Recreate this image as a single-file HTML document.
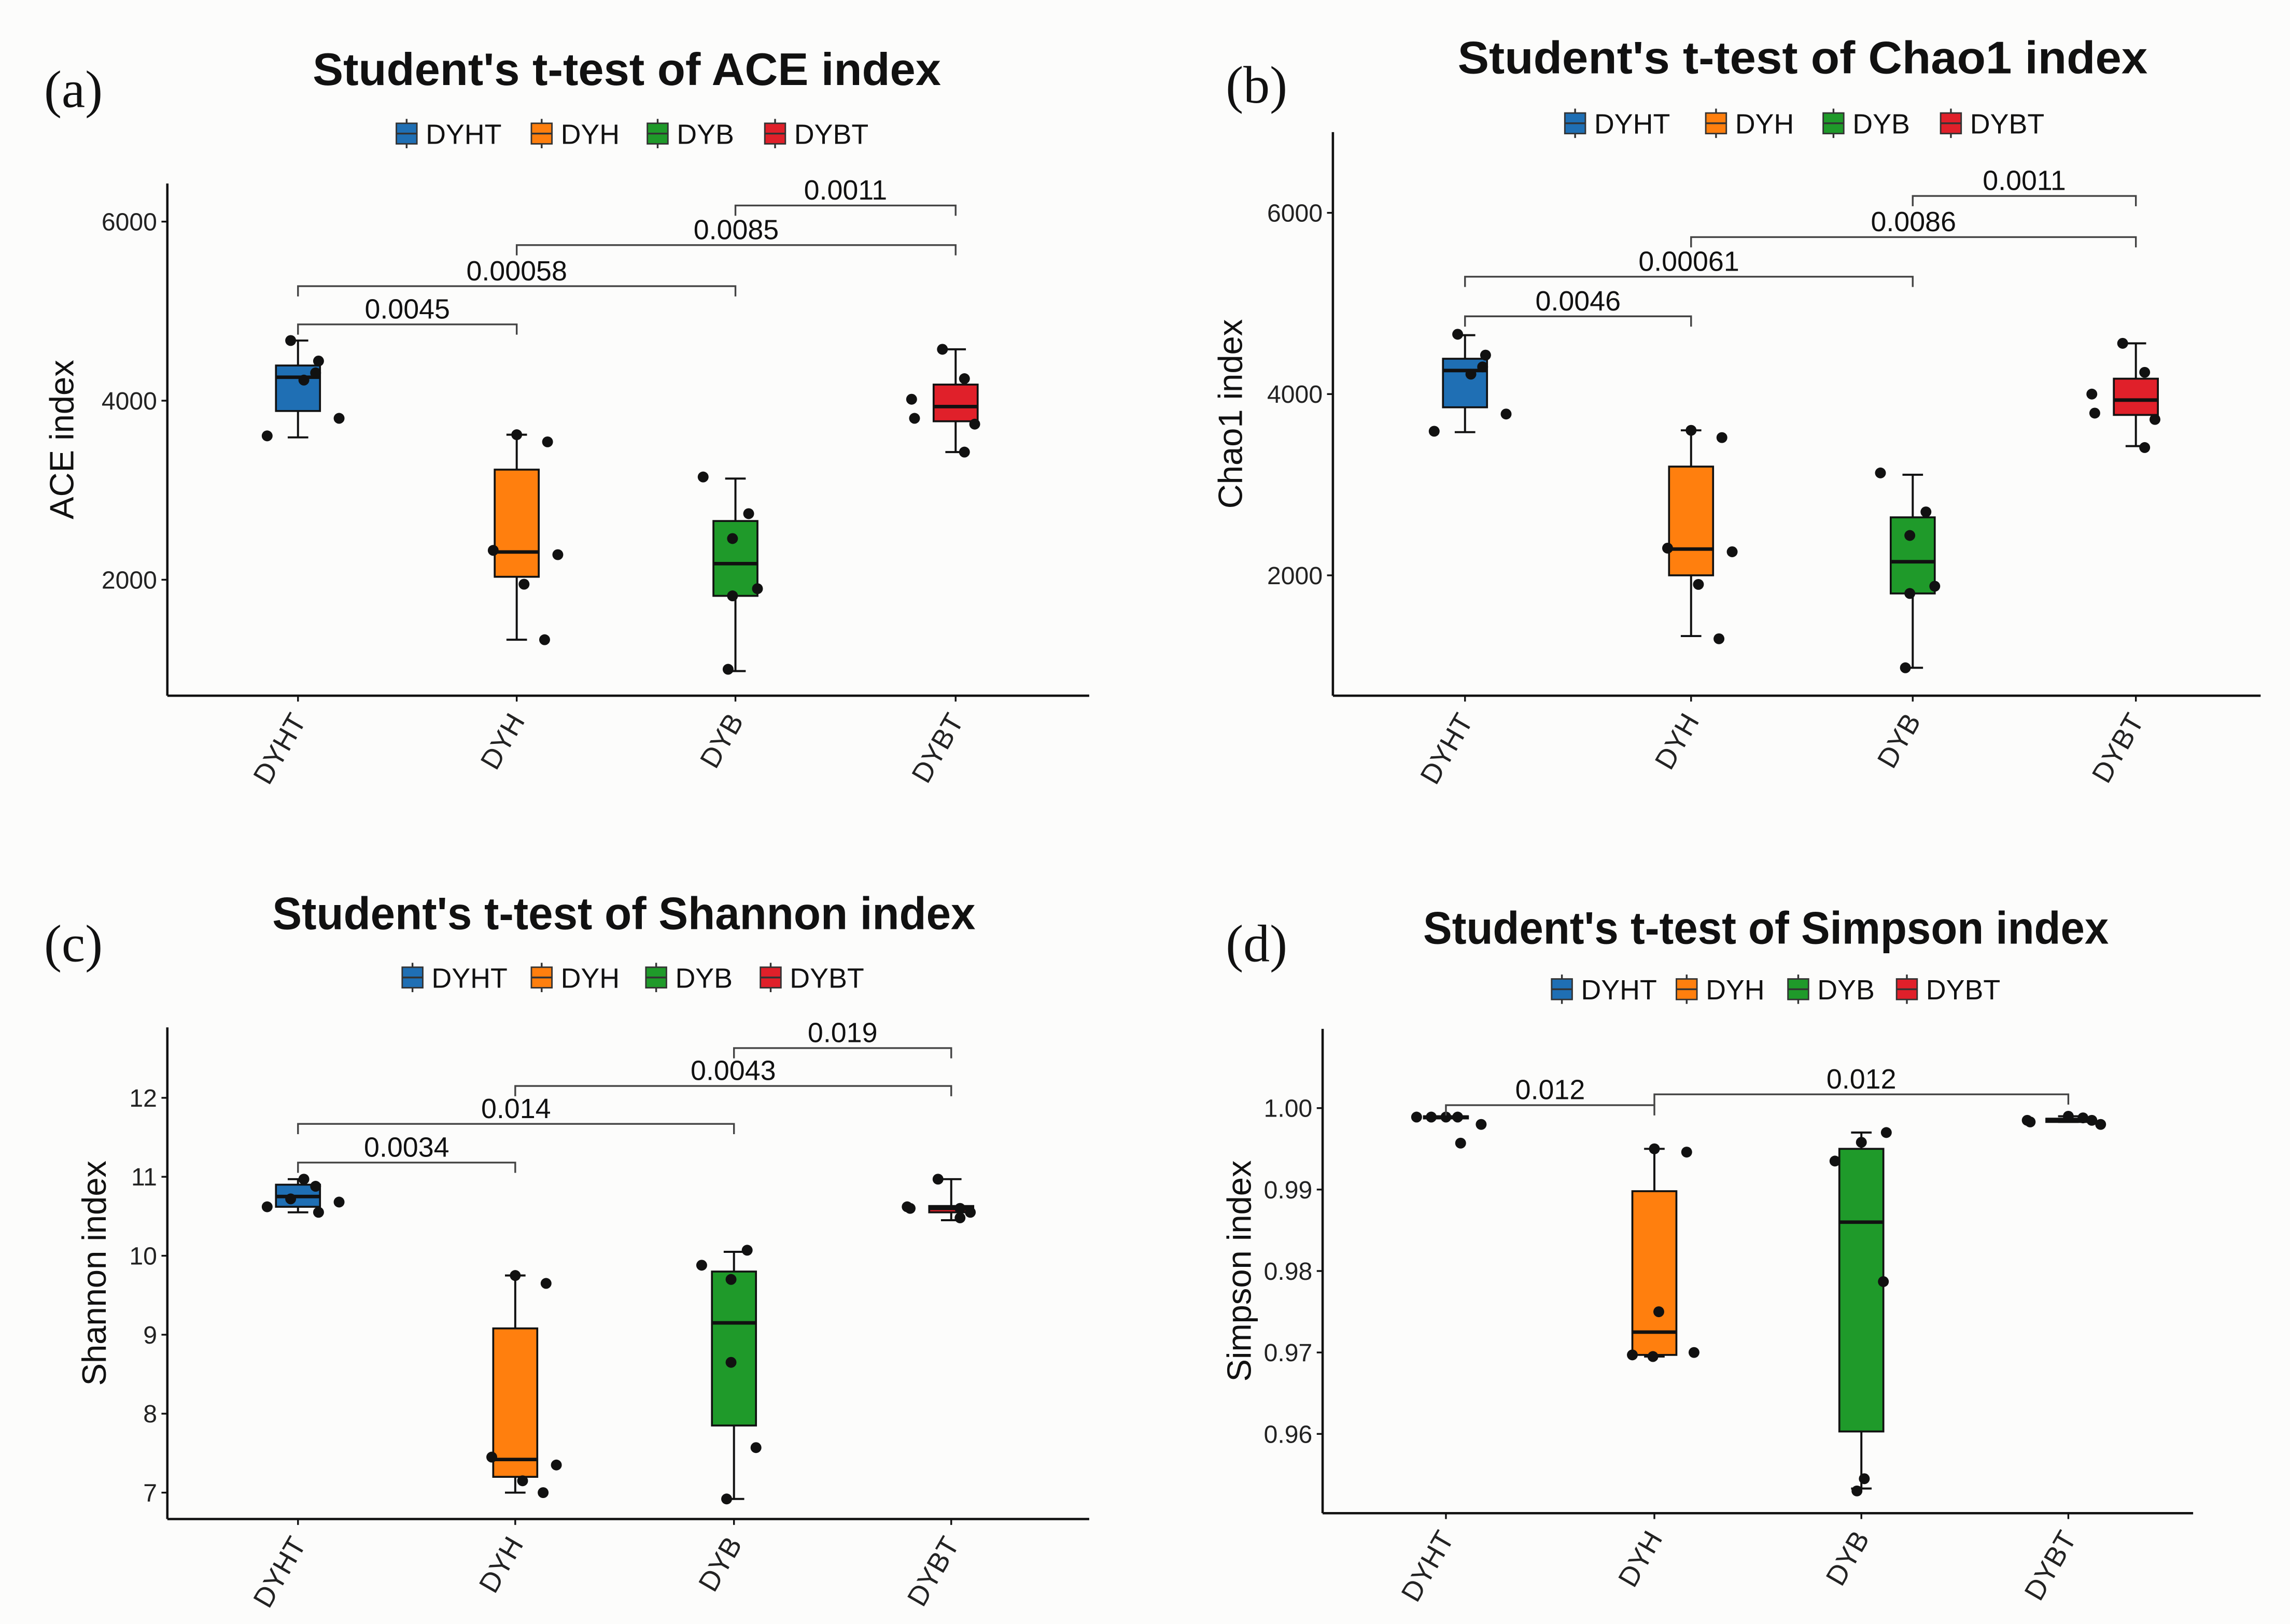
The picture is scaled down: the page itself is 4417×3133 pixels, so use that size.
<!DOCTYPE html>
<html><head><meta charset="utf-8"><style>
html,body{margin:0;padding:0;background:#fcfcfb;}
svg{display:block;}
</style></head><body>
<svg id="fig" xmlns="http://www.w3.org/2000/svg" width="4417" height="3133" viewBox="0 0 1560 1106.5" font-family="'Liberation Sans', sans-serif">
<rect x="0" y="0" width="1560" height="1107" fill="#fcfcfb"/>
</svg>
<script>
const categories = ['DYHT','DYH','DYB','DYBT'];
const colors = ['#1f6fb4','#ff7f0e','#1f9a2a','#e0202a'];

const aLo = [3590,1330,980,3426];
const aQ1 = [3885,2033,1820,3770];
const aMed = [4262,2310,2180,3934];
const aQ3 = [4393,3230,2656,4180];
const aHi = [4672,3620,3130,4574];
const aPts = [[3607,4672,4230,4311,4443,3803],[2328,3620,3540,1950,2280,1330],[3148,2738,2460,1820,1900,1000],[4016,3803,4574,4246,3738,3426]];
const aTicks = [2000,4000,6000];
const aBrLabels = ['0.0045','0.00058','0.0085','0.0011'];
const aBrPairs = [[0,1],[0,2],[1,3],[2,3]];
const aBrVals = [4852,5279,5738,6180];

const bLo = [3580,1330,980,3426];
const bQ1 = [3854,2000,1800,3770];
const bMed = [4260,2290,2150,3934];
const bQ3 = [4390,3200,2640,4170];
const bHi = [4650,3600,3110,4560];
const bPts = [[3590,4660,4220,4300,4430,3780],[2300,3600,3520,1900,2260,1300],[3130,2700,2440,1800,1880,980],[4000,3790,4560,4240,3720,3410]];
const bTicks = [2000,4000,6000];
const bBrLabels = ['0.0046','0.00061','0.0086','0.0011'];
const bBrPairs = [[0,1],[0,2],[1,3],[2,3]];
const bBrVals = [4858,5295,5732,6186];

const cLo = [10.55,7.0,6.92,10.45];
const cQ1 = [10.62,7.2,7.85,10.55];
const cMed = [10.75,7.42,9.15,10.6];
const cQ3 = [10.9,9.08,9.8,10.63];
const cHi = [10.97,9.75,10.05,10.97];
const cPts = [[10.62,10.72,10.97,10.88,10.55,10.68],[7.45,9.75,9.65,7.15,7.35,7.0],[9.88,10.07,9.7,8.65,7.57,6.92],[10.62,10.6,10.97,10.6,10.55,10.48]];
const cTicks = [7,8,9,10,11,12];
const cBrLabels = ['0.0034','0.014','0.0043','0.019'];
const cBrPairs = [[0,1],[0,2],[1,3],[2,3]];
const cBrVals = [11.18,11.67,12.15,12.63];

const dLo = [0.9988,0.9695,0.9533,0.9983];
const dQ1 = [0.9988,0.9697,0.9603,0.9983];
const dMed = [0.9989,0.9725,0.986,0.9986];
const dQ3 = [0.999,0.9898,0.995,0.9987];
const dHi = [0.999,0.995,0.997,0.999];
const dPts = [[0.9989,0.9989,0.9989,0.9989,0.9957,0.998],[0.9697,0.995,0.9946,0.975,0.9695,0.970],[0.9935,0.997,0.9958,0.9787,0.9545,0.953],[0.9985,0.9983,0.999,0.9988,0.9985,0.998]];
const dTicks = [0.96,0.97,0.98,0.99,1.00];
const dBrLabels = ['0.012','0.012'];
const dBrPairs = [[0,1],[1,3]];
const dBrVals = [1.00036,1.00169];

const jitterA = [[-21,-5,4,12,14,28],[-16,0,21,5,28,19],[-22,9,-2,-2,15,-5],[-30,-28,-9,6,13,6]];
const jitterD = [[-20,-10,0,8,10,24],[-15,0,22,3,-1,27],[-18,17,0,15,2,-3],[-28,-26,0,10,16,22]];

const NS='http://www.w3.org/2000/svg';
const svg=document.getElementById('fig');
function mk(tag,attrs,parent,text){const e=document.createElementNS(NS,tag);for(const k in attrs)e.setAttribute(k,attrs[k]);if(text!==undefined)e.textContent=text;(parent||svg).appendChild(e);return e;}

const panels=[
 {id:'a',letter:'(a)',lx:30,ly:73,title:"Student's t-test of ACE index",tx:427,ty:58,tw:428,legY:91,legX:[270,362,441,521],
  ax:114,top:125,bot:474,right:742,cx:[203,352,501,651],v0:2000,p0:395,v1:6000,p1:151,ylab:'ACE index',ylx:50,
  lo:aLo,q1:aQ1,med:aMed,q3:aQ3,hi:aHi,pts:aPts,jit:jitterA,ticks:aTicks,fmt:v=>String(v),brL:aBrLabels,brP:aBrPairs,brV:aBrVals},
 {id:'b',letter:'(b)',lx:835,ly:70,title:"Student's t-test of Chao1 index",tx:1228,ty:50,tw:470,legY:84,legX:[1066,1162,1242,1322],
  ax:908,top:90,bot:474,right:1540,cx:[998,1152,1303,1455],v0:2000,p0:392,v1:6000,p1:145,ylab:'Chao1 index',ylx:846,
  lo:bLo,q1:bQ1,med:bMed,q3:bQ3,hi:bHi,pts:bPts,jit:jitterA,ticks:bTicks,fmt:v=>String(v),brL:bBrLabels,brP:bBrPairs,brV:bBrVals},
 {id:'c',letter:'(c)',lx:30,ly:655,title:"Student's t-test of Shannon index",tx:425,ty:633,tw:479,legY:666,legX:[274,362,440,518],
  ax:114,top:700,bot:1035,right:742,cx:[203,351,500,648],v0:7,p0:1017,v1:12,p1:748,ylab:'Shannon index',ylx:72,
  lo:cLo,q1:cQ1,med:cMed,q3:cQ3,hi:cHi,pts:cPts,jit:jitterA,ticks:cTicks,fmt:v=>String(v),brL:cBrLabels,brP:cBrPairs,brV:cBrVals},
 {id:'d',letter:'(d)',lx:835,ly:655,title:"Student's t-test of Simpson index",tx:1203,ty:643,tw:467,legY:674,legX:[1057,1142,1218,1292],
  ax:901,top:701,bot:1031,right:1494,cx:[985,1127,1268,1409],v0:0.96,p0:977,v1:1.00,p1:755,ylab:'Simpson index',ylx:852,
  lo:dLo,q1:dQ1,med:dMed,q3:dQ3,hi:dHi,pts:dPts,jit:jitterD,ticks:dTicks,fmt:v=>v.toFixed(2),brL:dBrLabels,brP:dBrPairs,brV:dBrVals}
];

panels.forEach(P=>{
  const g=mk('g',{});
  
  
  const y=v=>P.p0+(v-P.v0)*(P.p1-P.p0)/(P.v1-P.v0);
  const lt=mk('text',{x:P.lx,y:P.ly,'font-family':"'Liberation Serif',serif",'font-size':36,fill:'#111'},g,P.letter);
  
  
  const tt=mk('text',{x:P.tx,y:P.ty,'text-anchor':'middle','font-weight':'bold','font-size':31,fill:'#111',textLength:P.tw,lengthAdjust:'spacingAndGlyphs'},g,P.title);
  
  
  categories.forEach((c,i)=>{
    const lg=mk('g',{},g);
    
    
    const kx=P.legX[i];
    mk('line',{x1:kx+7,x2:kx+7,y1:P.legY-10,y2:P.legY+10,stroke:'#333','stroke-width':1.2},lg);
    mk('rect',{x:kx,y:P.legY-7,width:14,height:14,fill:colors[i],stroke:'#333','stroke-width':1},lg);
    mk('line',{x1:kx,x2:kx+14,y1:P.legY,y2:P.legY,stroke:'#333','stroke-width':1.2},lg);
    mk('text',{x:kx+20,y:P.legY+7,'font-size':19,fill:'#111'},lg,c);
  });
  const ya=mk('line',{x1:P.ax,x2:P.ax,y1:P.top,y2:P.bot,stroke:'#111','stroke-width':1.6},g);
  
  
  const xa=mk('line',{x1:P.ax,x2:P.right,y1:P.bot,y2:P.bot,stroke:'#111','stroke-width':1.6},g);
  
  
  P.ticks.forEach(t=>{
    const ty=y(t);
    mk('line',{x1:P.ax-4,x2:P.ax,y1:ty,y2:ty,stroke:'#111','stroke-width':1.2},g);
    const tl=mk('text',{x:P.ax-7,y:ty+6,'text-anchor':'end','font-size':17,fill:'#222'},g,P.fmt(t));
    
    
  });
  const yl=mk('text',{x:P.ylx,y:(P.top+P.bot)/2,'text-anchor':'middle','font-size':23,fill:'#111',transform:`rotate(-90 ${P.ylx} ${(P.top+P.bot)/2})`},g,P.ylab);
  
  
  categories.forEach((c,i)=>{
    const x=P.cx[i];
    mk('line',{x1:x,x2:x,y1:P.bot,y2:P.bot+4,stroke:'#111','stroke-width':1.2},g);
    const xl=mk('text',{x:x+6,y:P.bot+17,'text-anchor':'end','font-size':19,fill:'#222',transform:`rotate(-60 ${x+6} ${P.bot+17})`},g,c);
    
    
    const bg=mk('g',{},g);
    
    
    const w=30;
    mk('line',{x1:x,x2:x,y1:y(P.hi[i]),y2:y(P.q3[i]),stroke:'#111','stroke-width':1.4},bg);
    mk('line',{x1:x,x2:x,y1:y(P.q1[i]),y2:y(P.lo[i]),stroke:'#111','stroke-width':1.4},bg);
    mk('line',{x1:x-7,x2:x+7,y1:y(P.hi[i]),y2:y(P.hi[i]),stroke:'#111','stroke-width':1.4},bg);
    mk('line',{x1:x-7,x2:x+7,y1:y(P.lo[i]),y2:y(P.lo[i]),stroke:'#111','stroke-width':1.4},bg);
    const bt=y(P.q3[i]), bb=y(P.q1[i]);
    mk('rect',{x:x-w/2,y:bt,width:w,height:Math.max(bb-bt,1.5),fill:colors[i],stroke:'#111','stroke-width':1.3},bg);
    mk('line',{x1:x-w/2,x2:x+w/2,y1:y(P.med[i]),y2:y(P.med[i]),stroke:'#111','stroke-width':2.4},bg);
    P.pts[i].forEach((v,k)=>{
      const p=mk('circle',{cx:x+P.jit[i][k],cy:y(v),r:3.7,fill:'#111'},g);
      
      
    });
  });
  P.brL.forEach((lab,k)=>{
    const [a,b]=P.brP[k];
    const by=y(P.brV[k]);
    const x1=P.cx[a], x2=P.cx[b];
    const br=mk('g',{},g);
    
    
    mk('path',{d:`M${x1},${by+7}V${by}H${x2}V${by+7}`,fill:'none',stroke:'#444','stroke-width':1.2},br);
    mk('text',{x:(x1+x2)/2,y:by-4,'text-anchor':'middle','font-size':19,fill:'#111'},br,lab);
  });
});
</script>
</body></html>
